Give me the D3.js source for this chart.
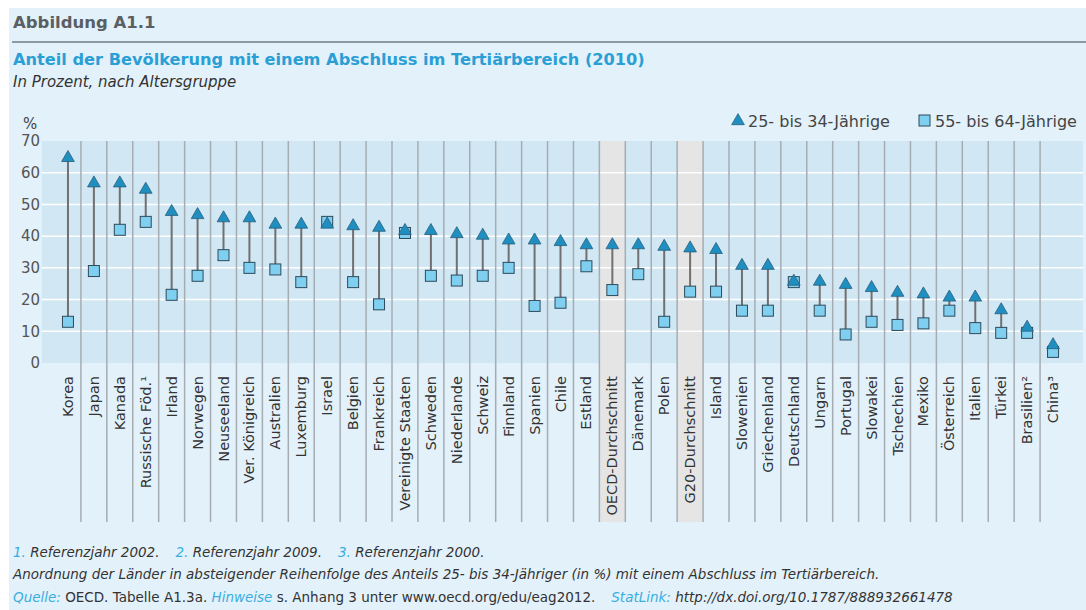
<!DOCTYPE html>
<html>
<head>
<meta charset="utf-8">
<script src="https://cdn.jsdelivr.net/npm/d3@7"></script>
<style>
  body { margin: 0; background: #fff; }
  text { font-family: "DejaVu Sans", Verdana, sans-serif; }
</style>
</head>
<body>
<svg width="1086" height="610"></svg>
<script>
var countries = ["Korea", "Japan", "Kanada", "Russische Föd.¹", "Irland", "Norwegen", "Neuseeland",
  "Ver. Königreich", "Australien", "Luxemburg", "Israel", "Belgien", "Frankreich", "Vereinigte Staaten",
  "Schweden", "Niederlande", "Schweiz", "Finnland", "Spanien", "Chile", "Estland", "OECD-Durchschnitt",
  "Dänemark", "Polen", "G20-Durchschnitt", "Island", "Slowenien", "Griechenland", "Deutschland",
  "Ungarn", "Portugal", "Slowakei", "Tschechien", "Mexiko", "Österreich", "Italien", "Türkei",
  "Brasilien²", "China³"];
var young = [65, 57, 57, 55, 48, 47, 46, 46, 44, 44, 44, 43.5, 43, 42, 42, 41, 40.5, 39, 39, 38.5, 37.5,
  37.5, 37.5, 37, 36.5, 36, 31, 31, 26, 26, 25, 24, 22.5, 22, 21, 21, 17, 11.5, 6];
var old = [13, 29, 42, 44.5, 21.5, 27.5, 34, 30, 29.5, 25.5, 44.5, 25.5, 18.5, 41, 27.5, 26, 27.5, 30,
  18, 19, 30.5, 23, 28, 13, 22.5, 22.5, 16.5, 16.5, 25.5, 16.5, 9, 13, 12, 12.5, 16.5, 11, 9.5, 9.5, 3.5];
var highlighted = ["OECD-Durchschnitt", "G20-Durchschnitt"];
var yTicks = [0, 10, 20, 30, 40, 50, 60, 70];

var data = countries.map(function(c, i) { return {name: c, young: young[i], old: old[i]}; });

var svg = d3.select("svg");

var plotTop = 141, plotBottom = 363, sepBottom = 522;
var blue = "#3aaee0";

var x = d3.scaleBand()
  .domain(countries)
  .range([55, 1066]);
var y = d3.scaleLinear()
  .domain([0, 70])
  .range([plotBottom, plotTop]);

// page background
svg.append("rect").attr("x", 9).attr("y", 8).attr("width", 1077).attr("height", 602).attr("fill", "#e3f1fa");

// header
svg.append("text").attr("x", 13).attr("y", 28)
  .style("font-size", "16.5px").style("font-weight", "bold").attr("fill", "#5a5f63")
  .text("Abbildung A1.1");
svg.append("line").attr("x1", 12).attr("x2", 1086).attr("y1", 42).attr("y2", 42)
  .attr("stroke", "#8a9aa4").attr("stroke-width", 2);
svg.append("text").attr("x", 13).attr("y", 65)
  .style("font-size", "16.2px").style("font-weight", "bold").attr("fill", "#2a9fd6")
  .text("Anteil der Bevölkerung mit einem Abschluss im Tertiärbereich (2010)");
svg.append("text").attr("x", 13).attr("y", 87)
  .style("font-size", "15px").style("font-style", "italic").attr("fill", "#333")
  .text("In Prozent, nach Altersgruppe");

svg.append("text").attr("x", 23).attr("y", 129)
  .style("font-size", "15px").attr("fill", "#444").text("%");

// legend
var leg = svg.append("g");
leg.append("path").attr("d", d3.symbol(d3.symbolTriangle, 70)())
  .attr("transform", "translate(738,121)")
  .attr("fill", "#1e8fc0").attr("stroke", "#2a5d7a").attr("stroke-width", 0.8);
leg.append("text").attr("x", 748).attr("y", 127).style("font-size", "16px").attr("fill", "#444")
  .text("25- bis 34-Jährige");
leg.append("rect").attr("x", 919).attr("y", 115).attr("width", 11).attr("height", 11)
  .attr("fill", "#7fcff0").attr("stroke", "#2d4a5a").attr("stroke-width", 1);
leg.append("text").attr("x", 935).attr("y", 127).style("font-size", "16px").attr("fill", "#444")
  .text("55- bis 64-Jährige");

// plot band
svg.append("rect").attr("x", 42).attr("y", plotTop).attr("width", 1041).attr("height", plotBottom - plotTop)
  .attr("fill", "#d1e8f4");

// highlighted averages
svg.selectAll(".hl").data(highlighted).enter().append("rect")
  .attr("class", "hl")
  .attr("x", d => x(d)).attr("y", plotTop)
  .attr("width", x.bandwidth()).attr("height", sepBottom - plotTop)
  .attr("fill", "#e5e5e5");

// gridlines
svg.selectAll(".grid").data(yTicks.filter(t => t > 0 && t < 70)).enter().append("line")
  .attr("class", "grid")
  .attr("x1", 42).attr("x2", 1083)
  .attr("y1", d => y(d)).attr("y2", d => y(d))
  .attr("stroke", "#fff").attr("stroke-width", 1.5);

// column separators
svg.selectAll(".sep").data(countries.slice(1)).enter().append("line")
  .attr("class", "sep")
  .attr("x1", d => x(d)).attr("x2", d => x(d))
  .attr("y1", plotTop).attr("y2", sepBottom)
  .attr("stroke", "#a5adb3").attr("stroke-width", 1.5);

// y axis
var yAxis = svg.append("g")
  .attr("transform", "translate(40,0)")
  .call(d3.axisLeft(y).tickValues(yTicks).tickSize(0).tickPadding(0));
yAxis.select(".domain").remove();
yAxis.selectAll("text").style("font-size", "15px").style("font-family", "DejaVu Sans, Verdana, sans-serif")
  .attr("fill", "#555");

// x labels
svg.selectAll(".lab").data(countries).enter().append("text")
  .attr("class", "lab")
  .attr("transform", d => "translate(" + (x(d) + x.bandwidth() / 2 + 5) + ",376) rotate(-90)")
  .attr("text-anchor", "end")
  .style("font-size", "14.5px").attr("fill", "#333")
  .text(d => d);

// connectors
var g = svg.append("g");
g.selectAll(".conn").data(data).enter().append("line")
  .attr("x1", d => x(d.name) + x.bandwidth() / 2).attr("x2", d => x(d.name) + x.bandwidth() / 2)
  .attr("y1", d => y(d.old)).attr("y2", d => y(d.young))
  .attr("stroke", "#707070").attr("stroke-width", 2);

g.selectAll(".sq").data(data).enter().append("rect")
  .attr("x", d => x(d.name) + x.bandwidth() / 2 - 5.5).attr("y", d => y(d.old) - 5.5)
  .attr("width", 11).attr("height", 11)
  .attr("fill", "#7fcff0").attr("stroke", "#2d4a5a").attr("stroke-width", 1);

g.selectAll(".tri").data(data).enter().append("path")
  .attr("d", d3.symbol(d3.symbolTriangle, 70)())
  .attr("transform", d => "translate(" + (x(d.name) + x.bandwidth() / 2) + "," + (y(d.young) + 1) + ")")
  .attr("fill", "#1e8fc0").attr("stroke", "#2a5d7a").attr("stroke-width", 0.8);

// footnotes
var fn = svg.append("g").style("font-size", "13.5px").style("font-style", "italic").attr("fill", "#333");
var f1 = fn.append("text").attr("x", 13).attr("y", 557);
f1.append("tspan").attr("fill", blue).text("1.");
f1.append("tspan").text(" Referenzjahr 2002.");
f1.append("tspan").attr("dx", 16).attr("fill", blue).text("2.");
f1.append("tspan").text(" Referenzjahr 2009.");
f1.append("tspan").attr("dx", 16).attr("fill", blue).text("3.");
f1.append("tspan").text(" Referenzjahr 2000.");
fn.append("text").attr("x", 13).attr("y", 579)
  .text("Anordnung der Länder in absteigender Reihenfolge des Anteils 25- bis 34-Jähriger (in %) mit einem Abschluss im Tertiärbereich.");
var f3 = fn.append("text").attr("x", 13).attr("y", 602);
f3.append("tspan").attr("fill", blue).text("Quelle:");
f3.append("tspan").style("font-style", "normal").text(" OECD. Tabelle A1.3a. ");
f3.append("tspan").attr("fill", blue).text("Hinweise");
f3.append("tspan").style("font-style", "normal").text(" s. Anhang 3 unter www.oecd.org/edu/eag2012.");
f3.append("tspan").attr("dx", 16).attr("fill", blue).text("StatLink:");
f3.append("tspan").text(" http://dx.doi.org/10.1787/888932661478");
</script>
</body>
</html>
